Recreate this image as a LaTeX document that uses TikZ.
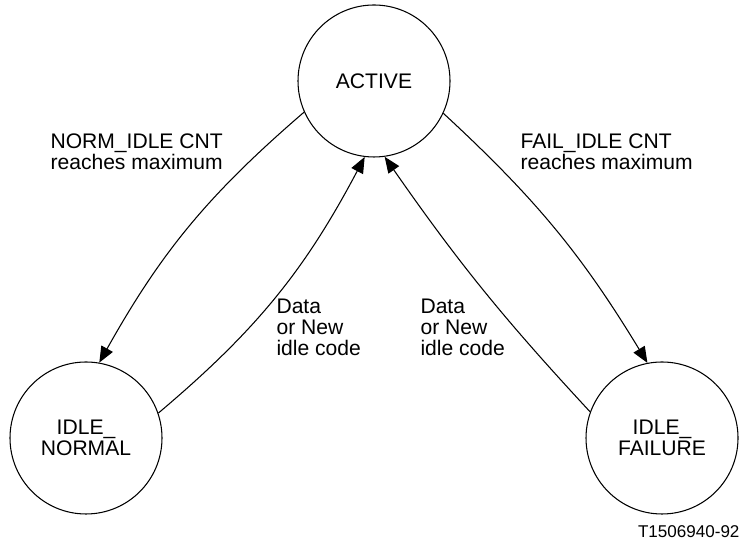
\documentclass[tikz,border=0pt]{standalone}
\usepackage{fontspec}
\setmainfont{Liberation Sans}
\usepackage{tikz}
\usetikzlibrary{arrows.meta}
\newcommand\nodeact{ACTIVE}
\newcommand\nodeinorm{IDLE\_\\NORMAL}
\newcommand\nodeifail{IDLE\_\\FAILURE}
\newcommand\labnorm{NORM\_IDLE CNT\\reaches maximum}
\newcommand\labfail{FAIL\_IDLE CNT\\reaches maximum}
\newcommand\labback{Data\\or New\\idle code}
\tikzstyle{mytextstyle} = [inner sep=0pt, font=\fontsize{12}{12.1}\selectfont]
\tikzstyle{sn} = [mytextstyle, circle, draw, minimum size=3.04cm, align=center]
\tikzstyle{ln} = [mytextstyle, anchor=north west, align=left]
\tikzset{>={Triangle[length=0.32cm,width=0.26cm]}, every picture/.style={line width=0.6pt}}

\begin{document}
\begin{tikzpicture}
\useasboundingbox (0,0) rectangle (14.82,10.78);
\node[sn] (act) at (7.48, 9.16) {\nodeact};
\node[sn] (inorm) at (1.72, 2.02) {\nodeinorm};
\node[sn] (ifail) at (13.24, 2.02) {\nodeifail};
\node[ln] (lnorm) at (1.0, 8.12) {\labnorm};
\node[ln] (lfail) at (10.4, 8.12) {\labfail};
\node[ln] (ldn) at (5.52, 4.82) {\labback};
\node[ln] (ldf) at (8.4, 4.82) {\labback};
\node[mytextstyle, anchor=base east, font=\fontsize{9.7}{10}\selectfont] (fig) at (14.8, 0.03) {T1506940-92};
\draw [->] (act.204) to[bend right=10] (inorm.80);
\draw [->] (inorm.19) to[bend right=11] (act.263);
\draw [->] (act.335) to[bend left=8] (ifail.101);
\draw [->] (ifail.160) to[bend left=4] (act.278);
\end{tikzpicture}
\end{document}
